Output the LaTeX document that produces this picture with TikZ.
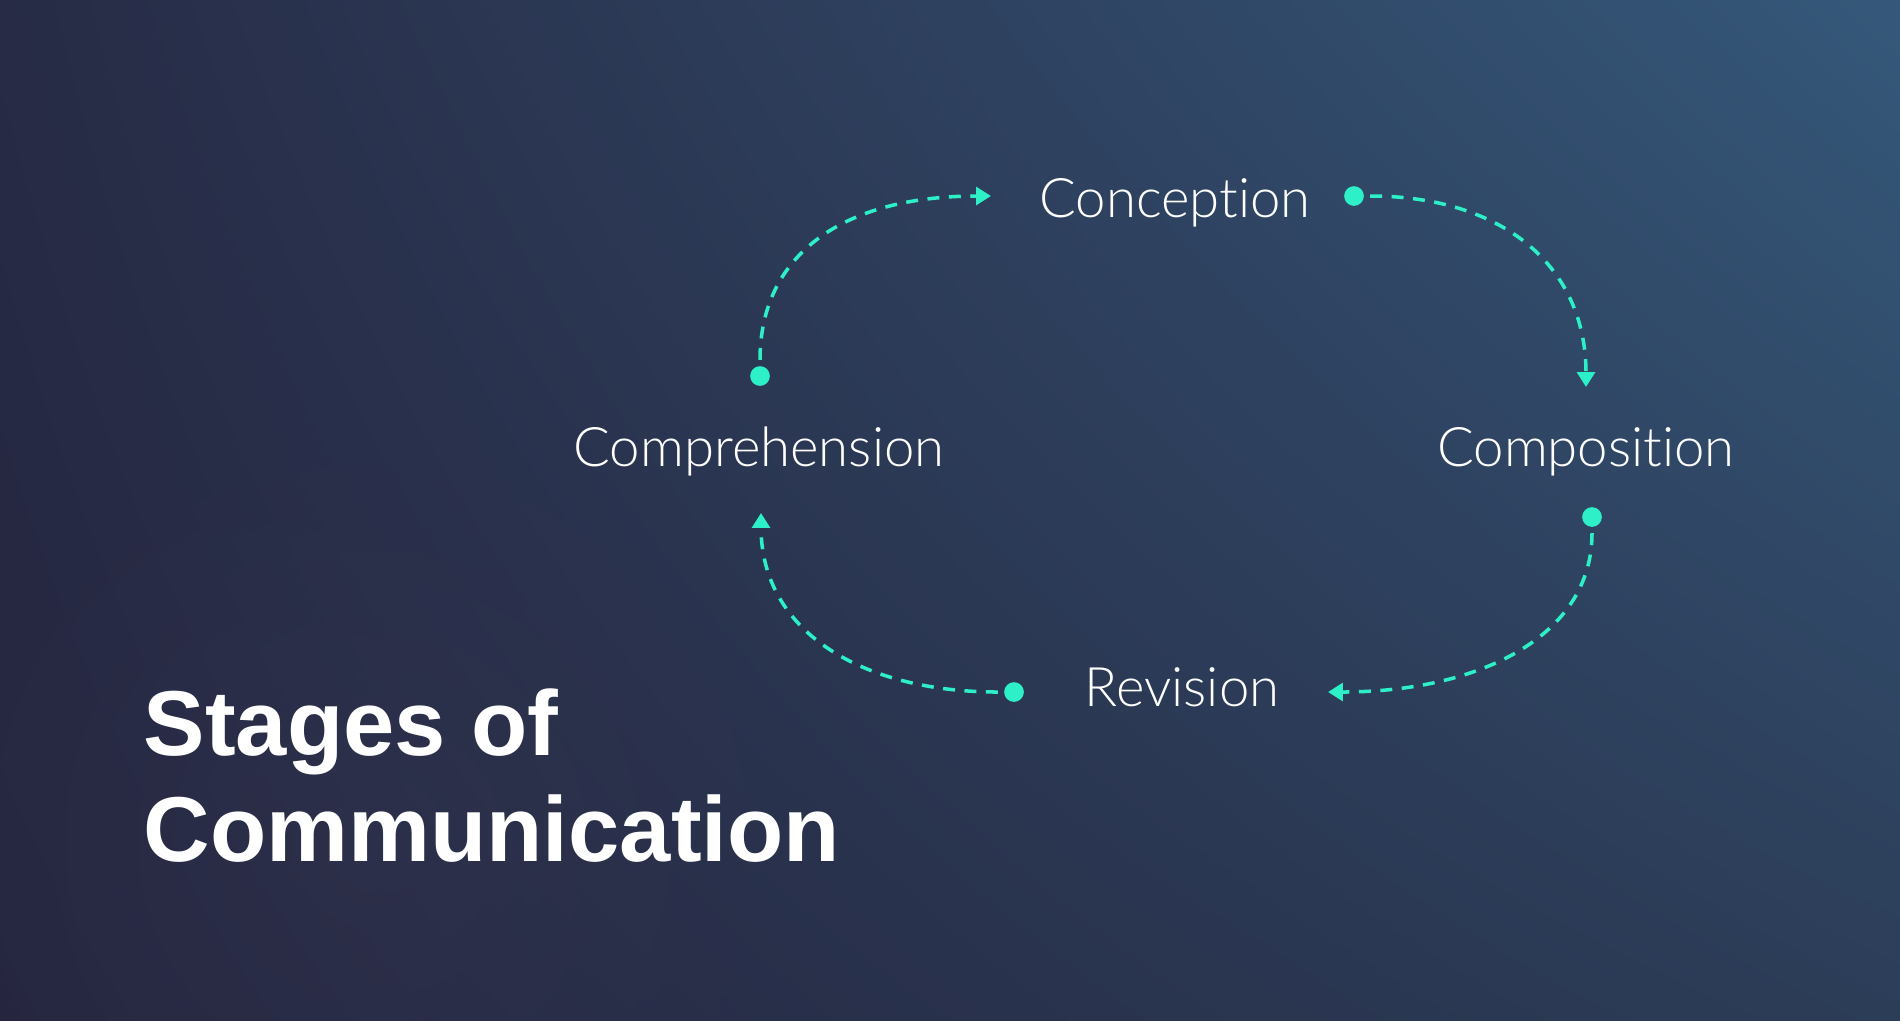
\documentclass[tikz,border=0pt]{standalone}
\usepackage{fontspec}
\setmainfont{Liberation Sans}
\newfontfamily\stagefont{Lato Light}[Ligatures={NoCommon,NoDiscretionary}]
\usetikzlibrary{arrows.meta,fadings,shadings}

\definecolor{bgTL}{HTML}{272B45}
\definecolor{bgTR}{HTML}{35587A}
\definecolor{bgBL}{HTML}{25253F}
\definecolor{bgBR}{HTML}{2C3D58}
\definecolor{glow}{HTML}{34354F}
\definecolor{teal}{HTML}{2EF0C8}
\tikzfading[name=glowfade, inner color=transparent!55, outer color=transparent!100]

\begin{document}
\begin{tikzpicture}[x=0.01cm,y=-0.01cm,
  stage/.style={text=white,inner sep=0pt,font=\stagefont\fontsize{15.5}{18}\selectfont},
  heading/.style={text=white,inner sep=0pt,align=left,font=\fontsize{26.2}{30.2}\selectfont\bfseries},
  dot/.style={circle,fill=teal,inner sep=0pt,minimum size=5.6pt,outer sep=1.8pt},
  flow/.style={teal,line width=1pt,dash pattern=on 3.4pt off 2.7pt,-{Triangle[length=4.2pt,width=5pt]}}]
\useasboundingbox (0,0) rectangle (1900,1020);
\shade[upper left=bgTL,upper right=bgTR,lower left=bgBL,lower right=bgBR] (0,0) rectangle (1900,1020);
\fill[glow,path fading=glowfade] (380,840) circle (460);

% stages
\node[stage,anchor=base] (con) at (1175,217) {Conception};
\node[stage,anchor=base] (comp) at (1586,466) {Composition};
\node[stage,anchor=base] (rev) at (1182,706) {Revision};
\node[stage,anchor=base] (compr) at (759,466) {Comprehension};

% dots and arrow ends
\node[dot] (conDot) at (1354,196) {};
\node[dot] (compDot) at (1592,517) {};
\node[dot] (revDot) at (1014,692) {};
\node[dot] (comprDot) at (760,376) {};
\coordinate (conEnd) at (991,196);
\coordinate (compEnd) at (1586,387);
\coordinate (revEnd) at (1328,692);
\coordinate (comprEnd) at (761,513);

\draw[flow] (comprDot) .. controls +(0,-120) and +(-150,0) .. (conEnd);
\draw[flow] (conDot) .. controls +(150,0) and +(0,-120) .. (compEnd);
\draw[flow] (compDot) .. controls +(0,120) and +(150,0) .. (revEnd);
\draw[flow] (revDot) .. controls +(-150,0) and +(0,120) .. (comprEnd);

\node[heading,anchor=north west] (title) at (143,688) {Stages of\\Communication};
\end{tikzpicture}
\end{document}
